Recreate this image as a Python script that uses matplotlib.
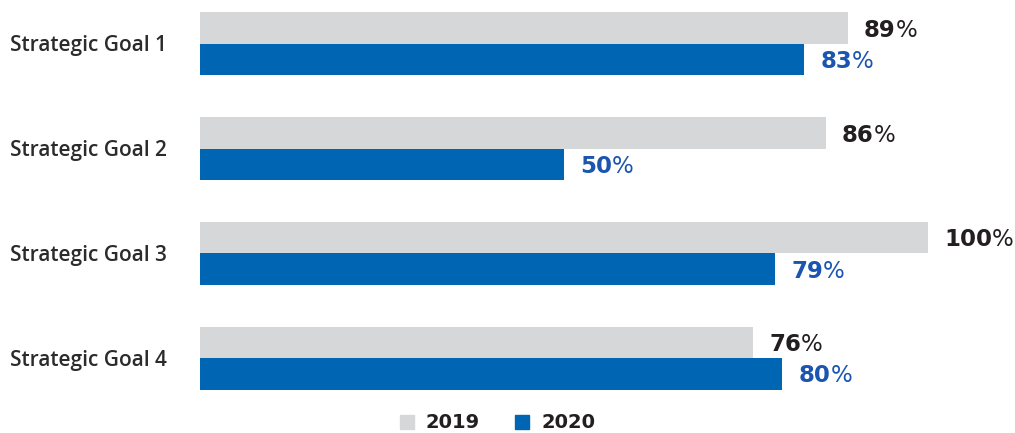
import matplotlib.pyplot as plt
import matplotlib.transforms as mtransforms
from matplotlib.patches import Patch

goals = ["Strategic Goal 1", "Strategic Goal 2", "Strategic Goal 3", "Strategic Goal 4"]
vals_2019 = [89, 86, 100, 76]
vals_2020 = [83, 50, 79, 80]

gray = "#d6d7d9"
blue = "#0066b3"
dark = "#231f20"
blue_txt = "#1b55b0"

fig = plt.figure(figsize=(10.15, 4.33), dpi=100)
ax = fig.add_axes([200 / 1015, 1 - 400 / 433, 728 / 1015, 398 / 433])

ypos = list(range(len(goals)))
h = 0.30
ax.barh([y - h / 2 for y in ypos], vals_2019, height=h, color=gray)
ax.barh([y + h / 2 for y in ypos], vals_2020, height=h, color=blue)

ax.set_xlim(0, 100)
ax.set_ylim(3.4, -0.4)
ax.axis("off")

# goal names on the left
trans = mtransforms.blended_transform_factory(fig.transFigure, ax.transData)
for y, g in zip(ypos, goals):
    ax.text(10 / 1015, y + 0.02, g, transform=trans, ha="left", va="center",
            fontsize=15, fontweight="semibold", family="Open Sans", color="#2b2b2b")

# value labels: bold number + regular %
def add_label(x, y, v, col):
    t = ax.text(x + 2.2, y + 0.02, str(v), ha="left", va="center", fontsize=16.5,
                fontweight="bold", family="DejaVu Sans", color=col)
    ax.annotate("%", xy=(1, 0), xycoords=t, ha="left", va="bottom",
                fontsize=16.5, family="DejaVu Sans", color=col)

for y, v in zip(ypos, vals_2019):
    add_label(v, y - h / 2, v, dark)
for y, v in zip(ypos, vals_2020):
    add_label(v, y + h / 2, v, blue_txt)

handles = [Patch(color=gray, label="2019"), Patch(color=blue, label="2020")]
leg = fig.legend(handles=handles, loc="center", bbox_to_anchor=(0.49, 1 - 423 / 433),
                 ncol=2, frameon=False, handlelength=0.75, handleheight=0.75,
                 handletextpad=0.6, columnspacing=1.8,
                 prop={"family": "DejaVu Sans", "weight": "bold", "size": 14})
for txt in leg.get_texts():
    txt.set_color(dark)

fig.savefig("out.png", dpi=100)
